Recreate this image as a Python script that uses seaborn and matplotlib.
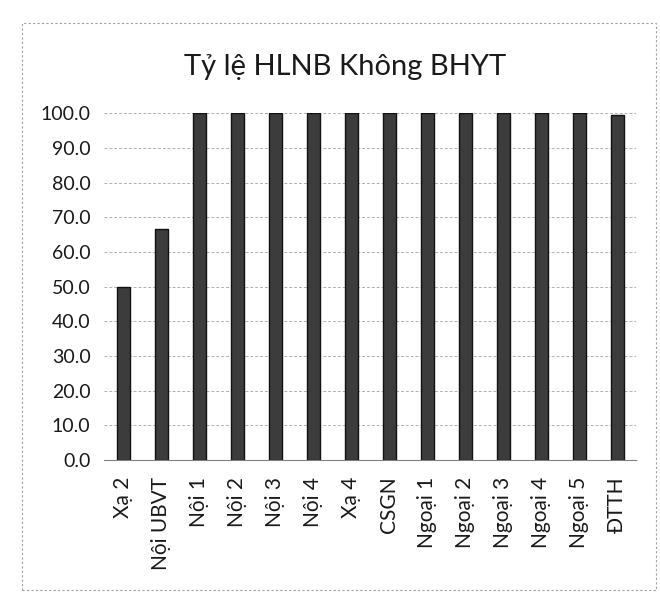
import matplotlib
matplotlib.use("Agg")
import matplotlib.pyplot as plt
import seaborn as sns
import pandas as pd
from matplotlib.patches import Rectangle

categories = ["Xạ 2", "Nội UBVT", "Nội 1", "Nội 2", "Nội 3", "Nội 4", "Xạ 4",
              "CSGN", "Ngoại 1", "Ngoại 2", "Ngoại 3", "Ngoại 4", "Ngoại 5", "ĐTTH"]
values = [50.0, 66.7, 100.0, 100.0, 100.0, 100.0, 100.0,
          100.0, 100.0, 100.0, 100.0, 100.0, 100.0, 99.5]
yticks = [0, 10, 20, 30, 40, 50, 60, 70, 80, 90, 100]
title = "Tỷ lệ HLNB Không BHYT"

sns.set_theme(style="white")
plt.rcParams["font.family"] = ["Lato", "Noto Sans", "DejaVu Sans"]

df = pd.DataFrame({"cat": categories, "val": values})

fig = plt.figure(figsize=(6.6, 6.03), dpi=100)
ax = fig.add_axes([0.158, 0.237, 0.806, 0.575])

ax.yaxis.grid(True, color="#b0b0b0", linewidth=0.7, linestyle=(0, (3, 2)))
ax.set_axisbelow(True)
sns.barplot(data=df, x="cat", y="val", color="#3c3c3c", width=0.34,
            edgecolor="#111111", linewidth=1.0, saturation=1, ax=ax)

ax.set_ylim(0, 100)
ax.set_yticks(yticks)
ax.set_yticklabels([f"{t:.1f}" for t in yticks], fontsize=14, color="#1a1a1a")
ax.set_xticks(range(len(categories)))
ax.set_xticklabels(categories, rotation=90, fontsize=15, color="#1a1a1a")
ax.tick_params(axis="both", length=0)
ax.tick_params(axis="x", pad=12)
ax.tick_params(axis="y", pad=10)
ax.set_xlabel("")
ax.set_ylabel("")
for s in ["top", "right", "left"]:
    ax.spines[s].set_visible(False)
ax.spines["bottom"].set_color("#808080")
ax.spines["bottom"].set_linewidth(0.8)

fig.text(0.523, 0.876, title, ha="center", va="baseline", fontsize=21, color="#1a1a1a")

fig.patches.append(Rectangle((0.033, 0.022), 0.961, 0.94, transform=fig.transFigure,
                             fill=False, edgecolor="#a0a0a0", linewidth=0.8,
                             linestyle=(0, (2, 2))))

fig.savefig("out.png", dpi=100, facecolor="white")
